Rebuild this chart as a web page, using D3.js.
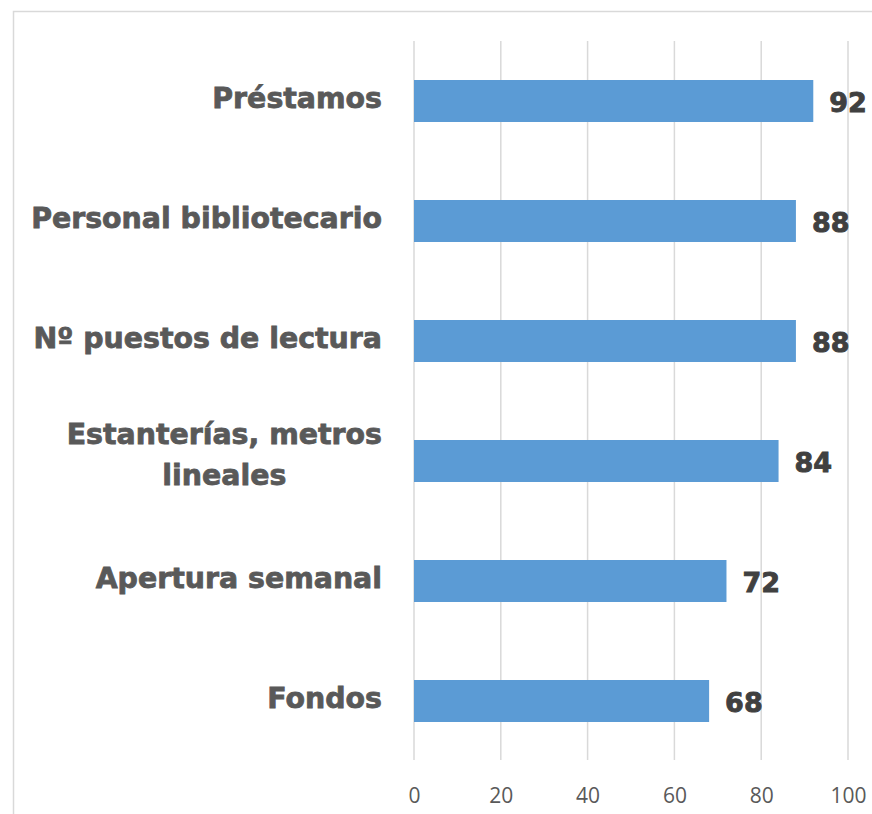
<!DOCTYPE html>
<html>
<head>
<meta charset="utf-8">
<script src="https://cdn.jsdelivr.net/npm/d3@7"></script>
<style>
html,body{margin:0;padding:0;background:#fff;}
svg{display:block;}
</style>
</head>
<body>
<svg id="chart" width="872" height="814"></svg>
<script>
const categories = ["Préstamos","Personal bibliotecario","Nº puestos de lectura","Estanterías, metros lineales","Apertura semanal","Fondos"];
const values = [92,88,88,84,72,68];
const tickValues = [0,20,40,60,80,100];

const svg = d3.select("#chart");
const W = 872, H = 814;

// outer frame
svg.append("rect").attr("x",13.5).attr("y",11.5).attr("width",W+20).attr("height",H+20)
  .attr("fill","none").attr("stroke","#d9d9d9").attr("stroke-width",1.5);

const x = d3.scaleLinear().domain([0,100]).range([414,848]);
const y = d3.scaleBand().domain(categories).range([41,761]).paddingInner(0.65).paddingOuter(0.325);

// gridlines
svg.append("g").selectAll("line").data(tickValues).join("line")
  .attr("x1",d=>x(d)).attr("x2",d=>x(d)).attr("y1",41).attr("y2",760)
  .attr("stroke","#d9d9d9").attr("stroke-width",1.5);

// x axis labels
const xAxis = d3.axisBottom(x).tickValues(tickValues).tickSize(0).tickPadding(0).tickFormat(d3.format("d"));
const gx = svg.append("g").attr("transform","translate(0,788)").call(xAxis);
gx.select(".domain").remove();
gx.selectAll("text").attr("font-family","'Open Sans', sans-serif").attr("font-size",21)
  .attr("fill","#595959").attr("dy","0.71em");

// bars
svg.append("g").selectAll("rect").data(values).join("rect")
  .attr("x",x(0)).attr("y",(d,i)=>y(categories[i]))
  .attr("width",d=>x(d)-x(0)).attr("height",y.bandwidth())
  .attr("fill","#5b9bd5");

// value labels
svg.append("g").selectAll("text").data(values).join("text")
  .attr("x",d=>x(d)+16).attr("y",(d,i)=>y(categories[i])+y.bandwidth()/2+10.5)
  .attr("font-family","'DejaVu Sans', sans-serif").attr("font-weight","bold").attr("font-size",27)
  .attr("fill","#404040").attr("stroke","#404040").attr("stroke-width",0.9).text(d=>d);

// category labels with wrapping
const labelRight = 382, maxW = 360;
const gl = svg.append("g");
categories.forEach((c,i)=>{
  const cy = y(c)+y.bandwidth()/2;
  const t = gl.append("text").attr("font-family","'DejaVu Sans', sans-serif").attr("font-weight","bold")
    .attr("font-size",28.4).attr("fill","#595959").attr("stroke","#595959").attr("stroke-width",0.8);
  const words = c.split(" ");
  const lines = [];
  let cur = "";
  words.forEach(w=>{
    const test = cur ? cur+" "+w : w;
    t.text(test);
    if (t.node().getComputedTextLength() > maxW && cur) { lines.push(cur); cur = w; }
    else cur = test;
  });
  lines.push(cur);
  t.text(null);
  const widths = lines.map(l=>{ t.text(l); return t.node().getComputedTextLength(); });
  t.text(null);
  const blockW = d3.max(widths);
  const lh = 41;
  const firstBase = cy + 6.5 - (lines.length-1)*lh/2 - 3;
  if (lines.length===1){
    t.attr("text-anchor","end").attr("x",labelRight).attr("y",cy+6.5).text(lines[0]);
  } else {
    t.attr("text-anchor","middle");
    lines.forEach((l,j)=>{
      t.append("tspan").attr("x",labelRight-blockW/2).attr("y",firstBase+j*lh).text(l);
    });
  }
});
</script>
</body>
</html>
